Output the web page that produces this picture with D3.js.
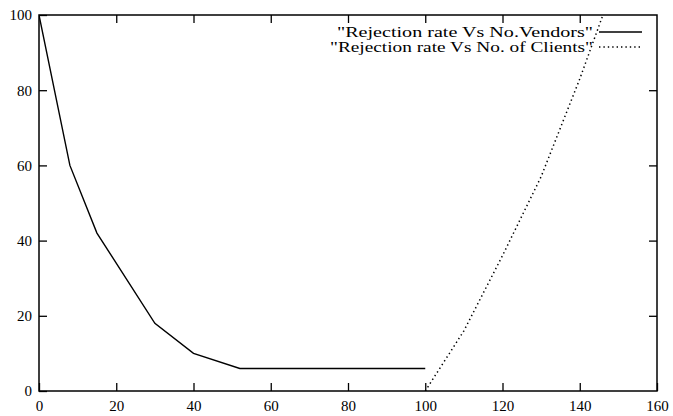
<!DOCTYPE html>
<html>
<head>
<meta charset="utf-8">
<script src="https://cdn.jsdelivr.net/npm/d3@7"></script>
<style>
  body { margin: 0; background: #fff; }
  svg { display: block; }
  svg text { font-family: "Liberation Serif", "Times New Roman", Times, "DejaVu Serif", serif; fill: #000; }
</style>
</head>
<body>
<div id="chart"></div>
<script>
// data
const vendorsX = [0, 8, 15, 30, 40, 52, 100];
const vendorsY = [100, 60, 42, 18, 10, 6, 6];
const clientsX = [100, 110, 120, 130, 140, 146];
const clientsY = [0, 16, 36, 57, 83, 100];
const xTicks = [0, 20, 40, 60, 80, 100, 120, 140, 160];
const yTicks = [0, 20, 40, 60, 80, 100];
const seriesNames = ['"Rejection rate Vs No.Vendors"', '"Rejection rate Vs No. of Clients"'];

function chart(container) {
    const width = 673;
    const height = 416;
    const marginTop = 15;
    const marginRight = 16;
    const marginBottom = 25;
    const marginLeft = 39;
    const tick = 8;

    const x = d3.scaleLinear()
        .domain([0, 160])
        .range([marginLeft, width - marginRight]);
    const y = d3.scaleLinear()
        .domain([0, 100])
        .range([height - marginBottom, marginTop]);

    const svg = d3.select(container).append("svg")
        .attr("width", width)
        .attr("height", height)
        .attr("viewBox", [0, 0, width, height]);

    svg.append("defs").append("clipPath").attr("id", "plot")
        .append("rect")
        .attr("x", marginLeft).attr("y", marginTop)
        .attr("width", width - marginLeft - marginRight)
        .attr("height", height - marginTop - marginBottom);

    // axes: ticks pointing inward on all four sides
    svg.append("g")
        .attr("transform", `translate(0,${height - marginBottom})`)
        .call(d3.axisBottom(x).tickValues(xTicks).tickSize(-tick).tickPadding(9))
        .call(g => g.select(".domain").remove());
    svg.append("g")
        .attr("transform", `translate(0,${marginTop})`)
        .call(d3.axisTop(x).tickValues(xTicks.slice(1, -1)).tickSize(-tick).tickFormat(""))
        .call(g => g.select(".domain").remove());
    svg.append("g")
        .attr("transform", `translate(${marginLeft},0)`)
        .call(d3.axisLeft(y).tickValues(yTicks).tickSize(-tick).tickPadding(7))
        .call(g => g.select(".domain").remove());
    svg.append("g")
        .attr("transform", `translate(${width - marginRight},0)`)
        .call(d3.axisRight(y).tickValues(yTicks.slice(1, -1)).tickSize(-tick).tickFormat(""))
        .call(g => g.select(".domain").remove());

    svg.selectAll(".tick line").attr("stroke", "#000").attr("stroke-width", 1.3);
    svg.selectAll("g").attr("font-family", null);
    svg.selectAll(".tick text")
        .attr("font-size", 15);

    // frame
    svg.append("rect")
        .attr("x", marginLeft).attr("y", marginTop)
        .attr("width", width - marginLeft - marginRight)
        .attr("height", height - marginTop - marginBottom)
        .attr("fill", "none").attr("stroke", "#000").attr("stroke-width", 1.5);

    const line = d3.line().x(d => x(d[0])).y(d => y(d[1]));
    const plot = svg.append("g").attr("clip-path", "url(#plot)").attr("fill", "none");

    plot.append("path")
        .datum(d3.zip(vendorsX, vendorsY))
        .attr("stroke", "#000").attr("stroke-width", 1.4)
        .attr("d", line);
    plot.append("path")
        .datum(d3.zip(clientsX, clientsY))
        .attr("stroke", "#000").attr("stroke-width", 1.5)
        .attr("stroke-dasharray", "1.4,3")
        .attr("d", line);

    // legend (top right, text right-aligned, sample to its right)
    const legend = svg.append("g");
    const rows = [
        { name: seriesNames[0], dash: null, y: 32, w: 256 },
        { name: seriesNames[1], dash: "1.4,3", y: 47, w: 263 }
    ];
    rows.forEach(r => {
        legend.append("text")
            .attr("x", width - 80)
            .attr("y", r.y + 5)
            .attr("text-anchor", "end")
            .attr("font-size", 14)
            .attr("textLength", r.w)
            .attr("lengthAdjust", "spacingAndGlyphs")
            .text(r.name);
        legend.append("line")
            .attr("x1", width - 74).attr("x2", width - 31)
            .attr("y1", r.y).attr("y2", r.y)
            .attr("stroke", "#000").attr("stroke-width", 1.4)
            .attr("stroke-dasharray", r.dash);
    });
}

chart("#chart");
</script>
</body>
</html>
